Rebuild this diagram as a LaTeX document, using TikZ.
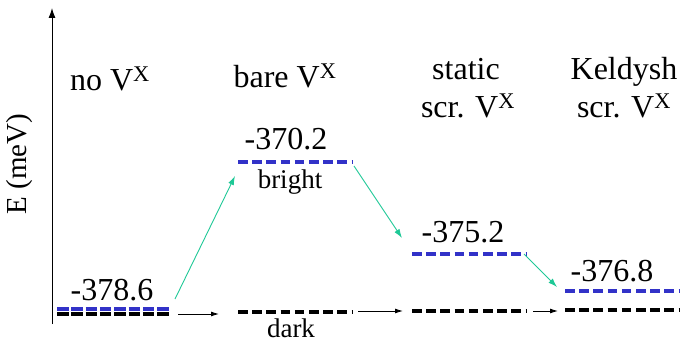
\documentclass[tikz,border=0pt]{standalone}
\usepackage{fontspec}
\setmainfont{Liberation Serif}
\usetikzlibrary{arrows.meta}
\definecolor{lvlblue}{RGB}{50,50,200}
\definecolor{arrgreen}{RGB}{30,200,150}
\begin{document}
\begin{tikzpicture}[x=1pt,y=-1pt,
  big/.style={font=\fontsize{32}{38}\selectfont, inner sep=0pt, anchor=base},
  small/.style={font=\fontsize{27}{32}\selectfont, inner sep=0pt, anchor=base},
  bluelvl/.style={draw=lvlblue, line width=3.3pt},
  darklvl/.style={draw=black, line width=3.3pt},
  dashA/.style={dash pattern=on 11.5pt off 2.8pt},
  dashB/.style={dash pattern=on 9.5pt off 4.7pt},
  greenarr/.style={draw=arrgreen, line width=0.9pt, -{Latex[length=9pt,width=6pt]}},
  blackarr/.style={draw=black, line width=0.9pt, -{Latex[length=8pt,width=5pt]}},
  axis/.style={draw=black, line width=1pt, -{Latex[length=10pt,width=7pt]}}
]
\useasboundingbox (0,0) rectangle (687,344);
% axis
\coordinate (ax0) at (52,324);
\coordinate (ax1) at (52,8);
\draw[axis] (ax0) -- (ax1);
\node[font=\fontsize{29}{34}\selectfont, inner sep=0pt, rotate=90] (ylab) at (20,164) {E (meV)};
% headers
\node[big] (h1) at (110,91) {no V\textsuperscript{X}};
\node[big] (h2) at (285,88) {bare V\textsuperscript{X}};
\node[big] (h3a) at (466,80) {static};
\node[big] (h3b) at (468,118) {scr. V\textsuperscript{X}};
\node[big] (h4a) at (624,80) {Keldysh};
\node[big] (h4b) at (624,118) {scr. V\textsuperscript{X}};
% level coordinates
\coordinate (b1l) at (57,309); \coordinate (b1r) at (170,309);
\coordinate (d1l) at (57,314); \coordinate (d1r) at (170,314);
\coordinate (b2l) at (238,162); \coordinate (b2r) at (352,162);
\coordinate (d2l) at (238,312); \coordinate (d2r) at (352,312);
\coordinate (b3l) at (412,254); \coordinate (b3r) at (526,254);
\coordinate (d3l) at (412,311); \coordinate (d3r) at (526,311);
\coordinate (b4l) at (565,291); \coordinate (b4r) at (679,291);
\coordinate (d4l) at (565,310); \coordinate (d4r) at (679,310);
% levels
\draw[darklvl,dashA] (d1l) -- (d1r);
\draw[bluelvl,dashA] (b1l) -- (b1r);
\draw[bluelvl,dashB] (b2l) -- (b2r);
\draw[darklvl,dashB] (d2l) -- (d2r);
\draw[bluelvl,dashB] (b3l) -- (b3r);
\draw[darklvl,dashB] (d3l) -- (d3r);
\draw[bluelvl,dashB] (b4l) -- (b4r);
\draw[darklvl,dashB] (d4l) -- (d4r);
% values
\node[big] (v1) at (112,300) {-378.6};
\node[big] (v2) at (286,150) {-370.2};
\node[big] (v3) at (463,243) {-375.2};
\node[big] (v4) at (612,281) {-376.8};
\node[small] (lb) at (290,189) {bright};
\node[small] (ld) at (291,337) {dark};
% green arrows
\coordinate (g1s) at (175,299); \coordinate (g1e) at (235,176);
\coordinate (g2s) at (354,166); \coordinate (g2e) at (402,238);
\coordinate (g3s) at (524,254); \coordinate (g3e) at (557,287);
\draw[greenarr] (g1s) -- (g1e);
\draw[greenarr] (g2s) -- (g2e);
\draw[greenarr] (g3s) -- (g3e);
% black arrows
\coordinate (k1s) at (178,314); \coordinate (k1e) at (219,314);
\coordinate (k2s) at (358,311); \coordinate (k2e) at (403,311);
\coordinate (k3s) at (533,311); \coordinate (k3e) at (558,311);
\draw[blackarr] (k1s) -- (k1e);
\draw[blackarr] (k2s) -- (k2e);
\draw[blackarr] (k3s) -- (k3e);
\end{tikzpicture}
\end{document}
